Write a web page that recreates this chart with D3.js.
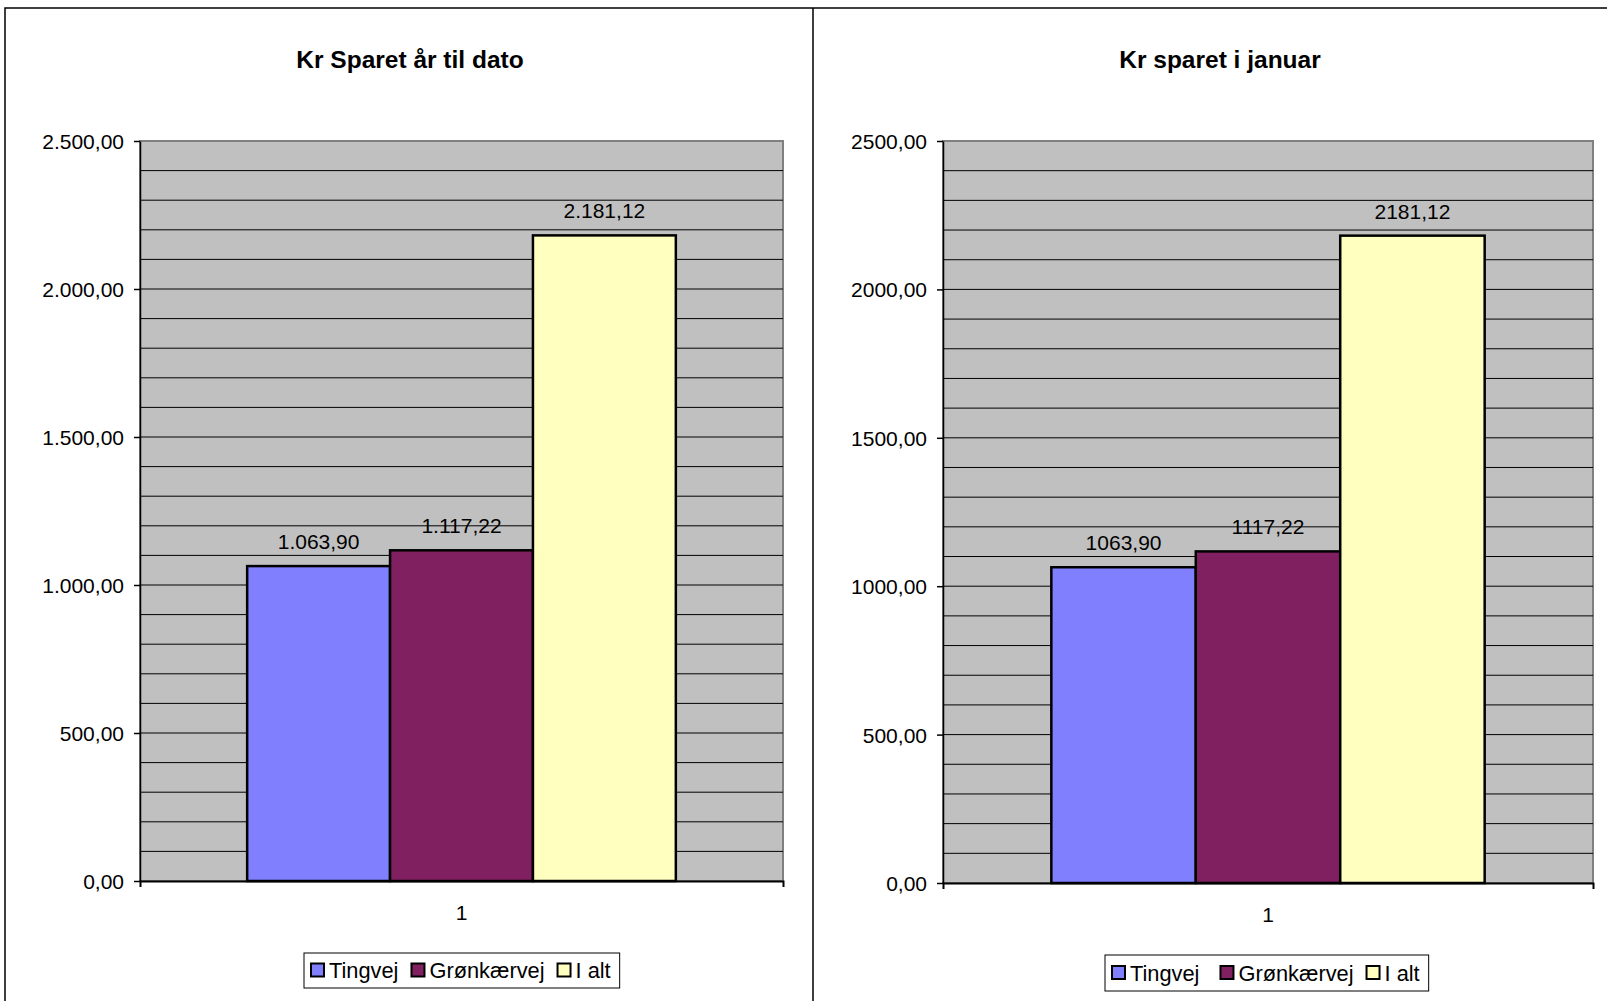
<!DOCTYPE html>
<html>
<head>
<meta charset="utf-8">
<script src="https://cdn.jsdelivr.net/npm/d3@7"></script>
<style>
  body { margin: 0; background: #fff; }
  svg { display: block; font-family: "Liberation Sans", Arial, sans-serif; }
</style>
</head>
<body>
<div id="chart"></div>
<script>
// data
const categories = ['1'];
const seriesNames = ['Tingvej', 'Grønkærvej', 'I alt'];
const seriesColors = ['#8080ff', '#802060', '#ffffc0'];
const savedYearToDate = [1063.90, 1117.22, 2181.12];
const savedJanuary = [1063.90, 1117.22, 2181.12];
const yTickValues = [0, 500, 1000, 1500, 2000, 2500];
const gridStep = 100;

const width = 1607;
const height = 1001;

const da = d3.formatLocale({ decimal: ',', thousands: '.', grouping: [3], currency: ['', ' kr'] });
const withGroups = da.format(',.2f');
const noGroups = da.format('.2f');

const panels = [
  {
    title: 'Kr Sparet år til dato',
    titleX: 410,
    values: savedYearToDate,
    fmt: withGroups,
    plot: { x: 140, y: 141, w: 643, h: 740 },
    legend: { x: 304, y: 953, h: 35, gaps: [13, 13] },
  },
  {
    title: 'Kr sparet i januar',
    titleX: 1220,
    values: savedJanuary,
    fmt: noGroups,
    plot: { x: 943, y: 141, w: 650, h: 742 },
    legend: { x: 1105, y: 955, h: 36, gaps: [21, 13] },
  },
];

const svg = d3.select('#chart')
  .append('svg')
  .attr('width', width)
  .attr('height', height);

svg.append('rect')
  .attr('width', width)
  .attr('height', height)
  .attr('fill', '#fff');

// outer frame lines
svg.append('path')
  .attr('d', `M5,${height}V8H${width}M813,8V${height}`)
  .attr('fill', 'none')
  .attr('stroke', '#000')
  .attr('stroke-width', 1.5);

panels.forEach((p) => {
  const { plot } = p;

  svg.append('text')
    .attr('x', p.titleX)
    .attr('y', 68)
    .attr('text-anchor', 'middle')
    .attr('font-size', 24.5)
    .attr('font-weight', 'bold')
    .text(p.title);

  const g = svg.append('g')
    .attr('transform', `translate(${plot.x},${plot.y})`);

  const y = d3.scaleLinear()
    .domain([0, 2500])
    .range([plot.h, 0]);

  const x0 = d3.scaleBand()
    .domain(categories)
    .range([0, plot.w]);

  // Excel gap width 150% -> 0.75 bar on each side
  const x1 = d3.scaleBand()
    .domain(seriesNames)
    .range([0, x0.bandwidth()])
    .paddingInner(0)
    .paddingOuter(0.75);

  g.append('rect')
    .attr('width', plot.w)
    .attr('height', plot.h)
    .attr('fill', '#c0c0c0')
    .attr('stroke', '#808080')
    .attr('stroke-width', 2);

  g.selectAll('.grid')
    .data(d3.range(gridStep, 2500, gridStep))
    .enter()
    .append('line')
    .attr('class', 'grid')
    .attr('x1', 0)
    .attr('x2', plot.w)
    .attr('y1', d => y(d))
    .attr('y2', d => y(d))
    .attr('stroke', '#000')
    .attr('stroke-width', 1);

  const group = g.selectAll('.cat')
    .data(categories)
    .enter()
    .append('g')
    .attr('transform', d => `translate(${x0(d)},0)`);

  const bars = seriesNames.map((name, i) => ({ name, value: p.values[i], color: seriesColors[i] }));

  group.selectAll('rect')
    .data(bars)
    .enter()
    .append('rect')
    .attr('x', d => x1(d.name))
    .attr('y', d => y(d.value))
    .attr('width', x1.bandwidth())
    .attr('height', d => y(0) - y(d.value))
    .attr('fill', d => d.color)
    .attr('stroke', '#000')
    .attr('stroke-width', 2.5);

  group.selectAll('.val')
    .data(bars)
    .enter()
    .append('text')
    .attr('class', 'val')
    .attr('x', d => x1(d.name) + x1.bandwidth() / 2)
    .attr('y', d => y(d.value) - 17)
    .attr('text-anchor', 'middle')
    .attr('font-size', 21)
    .attr('fill', '#000')
    .text(d => p.fmt(d.value));

  const yAxis = g.append('g')
    .call(d3.axisLeft(y)
      .tickValues(yTickValues)
      .tickSizeInner(6)
      .tickSizeOuter(0)
      .tickPadding(10)
      .tickFormat(p.fmt));

  yAxis.selectAll('text')
    .attr('font-size', 21)
    .attr('fill', '#000')
    .attr('dy', '0.36em');
  yAxis.selectAll('line, path')
    .attr('stroke', '#000')
    .attr('stroke-width', 1.5);

  const xAxis = g.append('g')
    .attr('transform', `translate(0,${plot.h})`)
    .call(d3.axisBottom(x0)
      .tickSizeInner(0)
      .tickSizeOuter(6)
      .tickPadding(24));

  xAxis.selectAll('text')
    .attr('font-size', 21)
    .attr('fill', '#000');
  xAxis.select('.domain')
    .attr('stroke', '#000')
    .attr('stroke-width', 2);

  // legend
  const leg = svg.append('g')
    .attr('transform', `translate(${p.legend.x},${p.legend.y})`);

  const box = leg.append('rect')
    .attr('height', p.legend.h)
    .attr('fill', '#fff')
    .attr('stroke', '#000')
    .attr('stroke-width', 1);

  let cx = 7;
  const midY = p.legend.h / 2;
  seriesNames.forEach((name, i) => {
    leg.append('rect')
      .attr('x', cx)
      .attr('y', midY - 7)
      .attr('width', 13)
      .attr('height', 13)
      .attr('fill', seriesColors[i])
      .attr('stroke', '#000')
      .attr('stroke-width', 2);
    const t = leg.append('text')
      .attr('x', cx + 18)
      .attr('y', midY + 7.5)
      .attr('font-size', 21.8)
      .attr('fill', '#000')
      .text(name);
    cx += 18 + t.node().getComputedTextLength();
    if (i < seriesNames.length - 1) cx += p.legend.gaps[i];
  });
  box.attr('width', cx + 9);
});
</script>
</body>
</html>
